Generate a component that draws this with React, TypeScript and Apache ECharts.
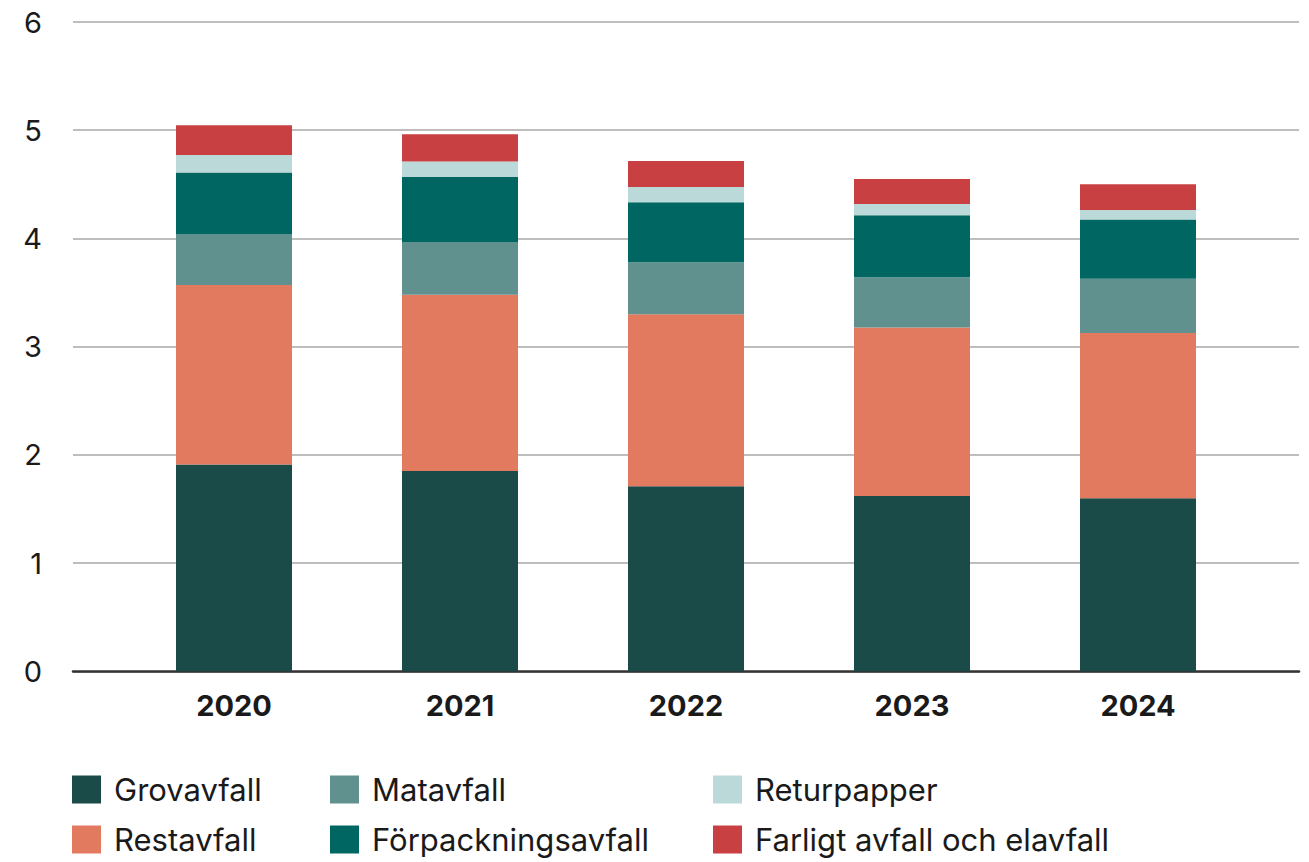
import React, { useEffect, useRef } from "react";
import * as echarts from "echarts";

const years = ["2020", "2021", "2022", "2023", "2024"];
const grovavfall = [1.91, 1.85, 1.71, 1.62, 1.6];
const restavfall = [1.66, 1.63, 1.59, 1.556, 1.526];
const matavfall = [0.47, 0.487, 0.48, 0.465, 0.501];
const forpackningsavfall = [0.57, 0.603, 0.555, 0.573, 0.549];
const returpapper = [0.16, 0.142, 0.14, 0.105, 0.086];
const farligt = [0.275, 0.25, 0.24, 0.231, 0.238];

const seriesDefs = [
  { name: "Grovavfall", data: grovavfall, color: "#1b4b48" },
  { name: "Restavfall", data: restavfall, color: "#e17a5f" },
  { name: "Matavfall", data: matavfall, color: "#61918e" },
  { name: "Förpackningsavfall", data: forpackningsavfall, color: "#006662" },
  { name: "Returpapper", data: returpapper, color: "#bcd9da" },
  { name: "Farligt avfall och elavfall", data: farligt, color: "#c84041" },
];

// legend slots: column-major, 3 columns x 2 rows
const legendLefts = [72, 72, 330, 330, 713, 713];
const legendTops = [774, 824, 774, 824, 774, 824];

const FONT = "Inter, 'Noto Sans', sans-serif";

export default function App() {
  const ref = useRef<HTMLDivElement>(null);
  useEffect(() => {
    if (!ref.current) return;
    const chart = echarts.init(ref.current, undefined, { renderer: "svg" });
    chart.setOption({
      animation: false,
      backgroundColor: "#ffffff",
      textStyle: { fontFamily: FONT },
      grid: [
        { left: 73, right: 10, top: 22, bottom: 190.7, containLabel: false },
        { left: 121, right: 58, top: 22, bottom: 190.7, containLabel: false },
      ],
      xAxis: [
        {
          gridIndex: 0,
          type: "value",
          min: 0,
          max: 1,
          axisLine: { show: true, onZero: false, lineStyle: { color: "#333333", width: 2.5 } },
          axisTick: { show: false },
          axisLabel: { show: false },
          splitLine: { show: false },
        },
        {
          gridIndex: 1,
          type: "category",
          data: years,
          axisLine: { show: false },
          axisTick: { show: false },
          axisLabel: {
            margin: 20,
            fontSize: 29,
            fontWeight: "bold",
            color: "#1a1a1a",
            fontFamily: FONT,
          },
        },
      ],
      yAxis: [
        {
          gridIndex: 0,
          type: "value",
          min: 0,
          max: 6,
          interval: 1,
          axisLine: { show: false },
          axisTick: { show: false },
          axisLabel: { margin: 31, fontSize: 29, color: "#1a1a1a", fontFamily: FONT },
          splitLine: { show: true, lineStyle: { color: "#a8a8a8", width: 1.5 } },
        },
        {
          gridIndex: 1,
          type: "value",
          min: 0,
          max: 6,
          interval: 1,
          show: false,
          splitLine: { show: false },
        },
      ],
      legend: seriesDefs.map((s, i) => ({
        orient: "horizontal",
        left: legendLefts[i],
        top: legendTops[i],
        itemWidth: 29,
        itemHeight: 28,
        icon: "rect",
        selectedMode: false,
        padding: 0,
        data: [s.name],
        textStyle: {
          fontSize: 31,
          lineHeight: 28,
          color: "#1a1a1a",
          fontFamily: FONT,
          padding: [0, 0, 0, 8],
        },
      })),
      series: seriesDefs.map((s) => ({
        name: s.name,
        type: "bar",
        stack: "total",
        xAxisIndex: 1,
        yAxisIndex: 1,
        barWidth: 116,
        data: s.data,
        itemStyle: { color: s.color },
        emphasis: { disabled: true },
      })),
    });
    return () => chart.dispose();
  }, []);
  return <div ref={ref} style={{ width: 1309, height: 862, position: "absolute", left: 0, top: 0 }} />;
}
